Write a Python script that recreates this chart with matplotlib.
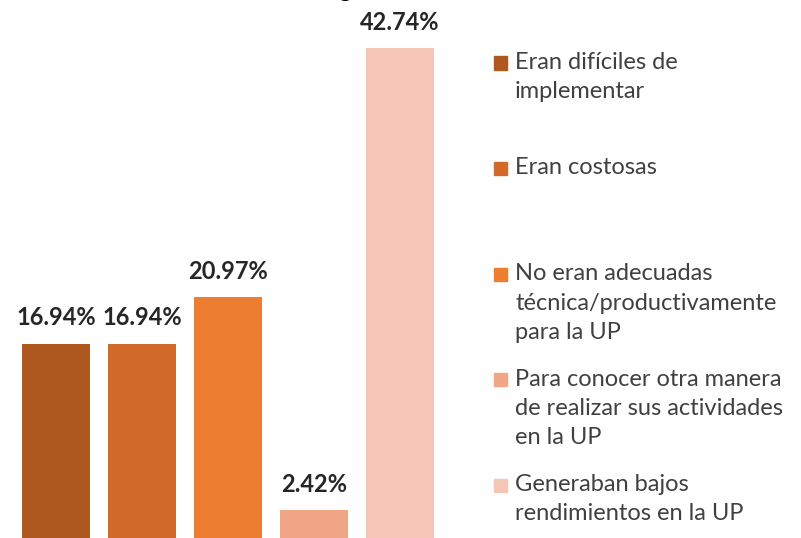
import matplotlib.pyplot as plt
from matplotlib.patches import Rectangle

# data
categorias = ["Eran difíciles de\nimplementar",
              "Eran costosas",
              "No eran adecuadas\ntécnica/productivamente\npara la UP",
              "Para conocer otra manera\nde realizar sus actividades\nen la UP",
              "Generaban bajos\nrendimientos en la UP"]
valores = [16.94, 16.94, 20.97, 2.42, 42.74]
colores = ["#B0591F", "#D26B2A", "#ED7D31", "#F1A686", "#F5C6B8"]

plt.rcParams['font.family'] = ['Lato', 'DejaVu Sans']

fig = plt.figure(figsize=(8.01, 5.38), dpi=100)
ax = fig.add_axes([0, 0, 470/801, 1])

x = range(len(valores))
bars = ax.bar(x, valores, width=0.79, color=colores)
for b, v in zip(bars, valores):
    ax.annotate("%.2f%%" % v, (b.get_x() + b.get_width()/2, v),
                xytext=(0, 18.5), textcoords="offset points",
                ha="center", va="center", fontsize=17, fontweight="bold",
                color="#262626")

ax.set_xlim(-0.651, 4.814)
ax.set_ylim(0, 46.9)
ax.axis("off")

# cut-off title at the top
fig.text(0.43, 1.005, "g", ha="center", va="baseline", fontsize=18, color="#000000")

# legend drawn by hand
H = 538.0
for i, (lab, c) in enumerate(zip(categorias, colores)):
    ytop = 63 + i*105.5
    fig.patches.append(Rectangle((494/801, 1 - (ytop + 6.5)/H), 13/801, 13/H,
                                 transform=fig.transFigure, color=c))
    fig.text(515/801, 1 - (ytop - 11)/H, lab, ha="left", va="top",
             fontsize=17, color="#404040", linespacing=1.5)

fig.savefig("out.png", dpi=100)
